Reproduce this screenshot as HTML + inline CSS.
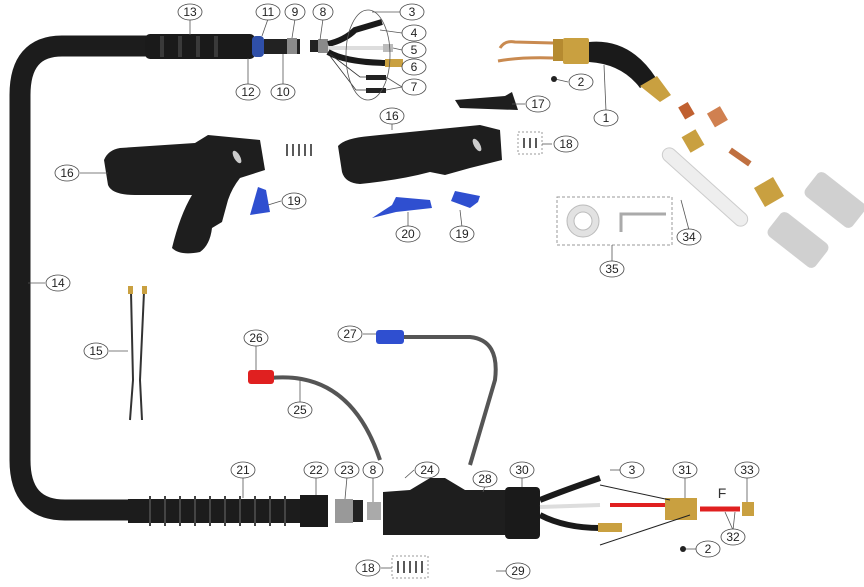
<!DOCTYPE html>
<html><head><meta charset="utf-8"><style>
html,body{margin:0;padding:0;background:#fff;width:864px;height:587px;overflow:hidden}
svg{display:block}
text{font-family:"Liberation Sans",sans-serif;font-size:12px;fill:#222;text-anchor:middle;dominant-baseline:central}
.c{fill:#fff;stroke:#444;stroke-width:0.8}
.l{stroke:#555;stroke-width:0.8;fill:none}
</style></head><body>
<svg width="864" height="587" viewBox="0 0 864 587">
<path d="M150 46 L62 46 Q20 46 20 95 L20 460 Q20 510 65 510 L135 510" stroke="#1c1c1c" stroke-width="21" fill="none"/>
<rect x="145" y="34" width="110" height="25" rx="5" fill="#1a1a1a"/>
<g fill="#3a3a3a"><rect x="160" y="36" width="4" height="21"/><rect x="178" y="36" width="4" height="21"/><rect x="196" y="36" width="4" height="21"/><rect x="214" y="36" width="4" height="21"/></g>
<rect x="252" y="36" width="12" height="21" rx="4" fill="#2f4fa8"/>
<rect x="264" y="39" width="36" height="15" fill="#222"/>
<rect x="287" y="38" width="10" height="16" fill="#8a8a8a"/>
<rect x="310" y="40" width="8" height="12" fill="#222"/>
<rect x="318" y="39" width="10" height="14" fill="#8a8a8a"/>
<path d="M328 44 Q345 40 355 30 L382 22" stroke="#1a1a1a" stroke-width="6" fill="none"/>
<path d="M328 48 L385 48" stroke="#ddd" stroke-width="4"/>
<rect x="383" y="44" width="10" height="8" fill="#bbb"/>
<path d="M328 52 Q345 62 385 63" stroke="#1a1a1a" stroke-width="6" fill="none"/>
<rect x="385" y="59" width="18" height="8" fill="#c9a040"/>
<path d="M330 54 L360 77 L386 77 M330 56 L356 90 L386 90" stroke="#333" stroke-width="0.8" fill="none"/>
<rect x="366" y="75" width="20" height="5" fill="#222"/><rect x="366" y="88" width="20" height="5" fill="#222"/>
<ellipse cx="368" cy="55" rx="22" ry="45" class="l"/>
<!-- torch neck -->
<path d="M500 48 Q505 40 515 42 L553 43" stroke="#c98a50" stroke-width="3" fill="none"/>
<path d="M498 61 Q520 57 553 58" stroke="#c98a50" stroke-width="3" fill="none"/>
<rect x="553" y="39" width="10" height="22" fill="#b58a30"/>
<rect x="563" y="38" width="26" height="26" rx="2" fill="#c9a040"/>
<path d="M589 42 Q630 38 656 78 L640 88 Q622 64 589 62 Z" fill="#1a1a1a"/>
<path d="M640 86 L657 76 L671 95 L660 102 Z" fill="#c9a040"/>
<!-- consumables -->
<rect x="681" y="104" width="11" height="14" fill="#c06030" transform="rotate(-30 686 111)"/>
<rect x="710" y="109" width="15" height="16" fill="#d08050" transform="rotate(-30 717 117)"/>
<rect x="685" y="132" width="16" height="18" fill="#c9a040" transform="rotate(-30 693 141)"/>
<rect x="728" y="154" width="24" height="6" fill="#c07040" transform="rotate(35 740 157)"/>
<rect x="758" y="181" width="22" height="22" fill="#c9a040" transform="rotate(-30 769 192)"/>
<rect x="650" y="180" width="110" height="14" rx="7" fill="#eee" stroke="#ccc" transform="rotate(42 705 187)"/>
<rect x="805" y="185" width="60" height="30" rx="6" fill="#d0d0d0" transform="rotate(38 835 200)"/>
<rect x="768" y="225" width="60" height="30" rx="6" fill="#d0d0d0" transform="rotate(38 798 240)"/>
<!-- box 35 -->
<rect x="557" y="197" width="115" height="48" fill="none" stroke="#999" stroke-dasharray="3 2"/>
<circle cx="583" cy="221" r="16" fill="#e2e2e2" stroke="#bbb"/><circle cx="583" cy="221" r="9" fill="#fff" stroke="#bbb"/>
<path d="M621 232 L621 214 L666 214" stroke="#aaa" stroke-width="3" fill="none"/>
<!-- guns -->
<path d="M104 160 Q108 150 120 148 L195 143 L208 135 L260 140 L265 170 L240 178 Q232 188 228 200 L222 222 L212 228 Q210 245 200 252 Q180 256 172 248 Q180 215 192 195 L135 195 Q112 195 108 185 Z" fill="#1e1e1e"/>
<ellipse cx="237" cy="157" rx="3" ry="7" fill="#ccc" transform="rotate(-30 237 157)"/>
<path d="M338 146 Q345 138 370 136 L480 125 L500 130 L502 160 L470 168 L445 175 L430 172 Q400 180 360 184 Q345 183 342 172 Z" fill="#1e1e1e"/>
<ellipse cx="477" cy="145" rx="3" ry="7" fill="#ccc" transform="rotate(-30 477 145)"/>
<path d="M455 100 L505 96 L512 92 L518 110 L460 108 Z" fill="#1e1e1e"/>
<path d="M250 215 L258 187 L266 190 L270 212 Z" fill="#2f4fd0"/>
<path d="M372 218 L392 205 L396 197 L430 200 L432 208 L396 212 Z" fill="#2f4fd0"/>
<path d="M451 201 L455 191 L480 196 L478 202 L470 208 Z" fill="#2f4fd0"/>
<g stroke="#222" stroke-width="1.5"><line x1="287" y1="144" x2="287" y2="156"/><line x1="293" y1="144" x2="293" y2="156"/><line x1="299" y1="144" x2="299" y2="156"/><line x1="305" y1="144" x2="305" y2="156"/><line x1="311" y1="144" x2="311" y2="156"/>
<line x1="524" y1="138" x2="524" y2="148"/><line x1="530" y1="138" x2="530" y2="148"/><line x1="536" y1="138" x2="536" y2="148"/>
<line x1="398" y1="561" x2="398" y2="573"/><line x1="404" y1="561" x2="404" y2="573"/><line x1="410" y1="561" x2="410" y2="573"/><line x1="416" y1="561" x2="416" y2="573"/><line x1="422" y1="561" x2="422" y2="573"/></g>
<rect x="518" y="132" width="24" height="22" fill="none" stroke="#999" stroke-dasharray="2 2"/>
<rect x="392" y="556" width="36" height="22" fill="none" stroke="#999" stroke-dasharray="2 2"/>
<!-- item 15 -->
<path d="M131 292 L133 380 L130 420 M144 292 L140 380 L142 420" stroke="#333" stroke-width="2" fill="none"/>
<rect x="128" y="286" width="5" height="8" fill="#c9a040"/><rect x="142" y="286" width="5" height="8" fill="#c9a040"/>
<!-- water hoses -->
<path d="M270 378 Q350 370 380 460" stroke="#555" stroke-width="4" fill="none"/>
<path d="M395 337 L470 337 Q500 340 495 380 L470 465" stroke="#555" stroke-width="4" fill="none"/>
<rect x="248" y="370" width="26" height="14" rx="3" fill="#e02020"/>
<rect x="376" y="330" width="28" height="14" rx="3" fill="#2f4fd0"/>
<!-- bottom assembly -->
<rect x="128" y="499" width="180" height="24" fill="#1c1c1c"/>
<g stroke="#444" stroke-width="2"><line x1="150" y1="496" x2="150" y2="526"/><line x1="165" y1="496" x2="165" y2="526"/><line x1="180" y1="496" x2="180" y2="526"/><line x1="195" y1="496" x2="195" y2="526"/><line x1="210" y1="496" x2="210" y2="526"/><line x1="225" y1="496" x2="225" y2="526"/><line x1="240" y1="496" x2="240" y2="526"/><line x1="255" y1="496" x2="255" y2="526"/><line x1="270" y1="496" x2="270" y2="526"/><line x1="285" y1="496" x2="285" y2="526"/></g>
<rect x="300" y="495" width="28" height="32" fill="#1a1a1a"/>
<rect x="335" y="499" width="18" height="24" fill="#999"/>
<rect x="353" y="500" width="10" height="22" fill="#222"/>
<rect x="367" y="502" width="14" height="18" fill="#aaa"/>
<path d="M383 492 L410 490 L430 478 L445 478 L465 490 L515 490 L515 535 L383 535 Z" fill="#1e1e1e"/>
<rect x="505" y="487" width="35" height="52" rx="4" fill="#1a1a1a"/>
<path d="M540 500 Q565 490 600 478" stroke="#1a1a1a" stroke-width="6" fill="none"/>
<path d="M540 507 L600 505" stroke="#ddd" stroke-width="4"/>
<path d="M540 515 Q565 528 600 528" stroke="#1a1a1a" stroke-width="6" fill="none"/>
<rect x="598" y="523" width="24" height="9" fill="#c9a040"/>
<path d="M610 505 L670 505" stroke="#e02020" stroke-width="4"/>
<rect x="665" y="498" width="32" height="22" fill="#c9a040"/>
<path d="M700 509 L740 509" stroke="#e02020" stroke-width="5"/>
<rect x="742" y="502" width="12" height="14" fill="#c9a040"/>
<path d="M600 485 L670 500 M600 545 L690 515" stroke="#222" stroke-width="1"/>
<text x="722" y="493" style="font-size:14px;fill:#333">F</text>
<g>
<line class="l" x1="190" y1="19" x2="190" y2="35"/><line class="l" x1="268" y1="19" x2="262" y2="36"/><line class="l" x1="295" y1="19" x2="292" y2="38"/><line class="l" x1="323" y1="19" x2="320" y2="40"/>
<line class="l" x1="400" y1="12" x2="372" y2="12"/><line class="l" x1="402" y1="33" x2="380" y2="30"/><line class="l" x1="402" y1="50" x2="393" y2="48"/><line class="l" x1="402" y1="67" x2="403" y2="63"/><line class="l" x1="402" y1="87" x2="386" y2="77"/><line class="l" x1="402" y1="87" x2="386" y2="90"/>
<line class="l" x1="248" y1="85" x2="248" y2="58"/><line class="l" x1="283" y1="85" x2="283" y2="54"/>
<line class="l" x1="568" y1="82" x2="555" y2="79"/><line class="l" x1="606" y1="111" x2="604" y2="65"/><line class="l" x1="525" y1="104" x2="512" y2="104"/>
<line class="l" x1="392" y1="123" x2="392" y2="130"/><line class="l" x1="552" y1="144" x2="542" y2="144"/>
<line class="l" x1="80" y1="173" x2="108" y2="173"/><line class="l" x1="281" y1="201" x2="268" y2="205"/>
<line class="l" x1="408" y1="227" x2="408" y2="212"/><line class="l" x1="462" y1="227" x2="460" y2="210"/>
<line class="l" x1="689" y1="230" x2="681" y2="200"/><line class="l" x1="612" y1="262" x2="612" y2="245"/>
<line class="l" x1="45" y1="283" x2="28" y2="283"/><line class="l" x1="109" y1="351" x2="128" y2="351"/>
<line class="l" x1="256" y1="345" x2="256" y2="370"/><line class="l" x1="363" y1="334" x2="376" y2="334"/><line class="l" x1="300" y1="403" x2="300" y2="380"/>
<line class="l" x1="243" y1="477" x2="243" y2="498"/><line class="l" x1="316" y1="477" x2="316" y2="495"/><line class="l" x1="347" y1="477" x2="345" y2="499"/><line class="l" x1="373" y1="477" x2="373" y2="502"/><line class="l" x1="414" y1="470" x2="405" y2="478"/><line class="l" x1="485" y1="486" x2="483" y2="492"/><line class="l" x1="522" y1="477" x2="522" y2="487"/>
<line class="l" x1="620" y1="470" x2="610" y2="470"/><line class="l" x1="685" y1="477" x2="685" y2="498"/><line class="l" x1="733" y1="530" x2="725" y2="512"/><line class="l" x1="733" y1="530" x2="735" y2="512"/><line class="l" x1="747" y1="477" x2="747" y2="502"/>
<line class="l" x1="696" y1="549" x2="684" y2="549"/><line class="l" x1="381" y1="568" x2="392" y2="568"/><line class="l" x1="506" y1="571" x2="496" y2="571"/>
</g>
<circle cx="683" cy="549" r="3" fill="#222"/><circle cx="554" cy="79" r="3" fill="#222"/>
<g>
<ellipse class="c" cx="190" cy="12" rx="12" ry="8"/><text x="190" y="12">13</text>
<ellipse class="c" cx="268" cy="12" rx="12" ry="8"/><text x="268" y="12">11</text>
<ellipse class="c" cx="295" cy="12" rx="10" ry="8"/><text x="295" y="12">9</text>
<ellipse class="c" cx="323" cy="12" rx="10" ry="8"/><text x="323" y="12">8</text>
<ellipse class="c" cx="412" cy="12" rx="12" ry="8"/><text x="412" y="12">3</text>
<ellipse class="c" cx="414" cy="33" rx="12" ry="8"/><text x="414" y="33">4</text>
<ellipse class="c" cx="414" cy="50" rx="12" ry="8"/><text x="414" y="50">5</text>
<ellipse class="c" cx="414" cy="67" rx="12" ry="8"/><text x="414" y="67">6</text>
<ellipse class="c" cx="414" cy="87" rx="12" ry="8"/><text x="414" y="87">7</text>
<ellipse class="c" cx="248" cy="92" rx="12" ry="8"/><text x="248" y="92">12</text>
<ellipse class="c" cx="283" cy="92" rx="12" ry="8"/><text x="283" y="92">10</text>
<ellipse class="c" cx="581" cy="82" rx="12" ry="8"/><text x="581" y="82">2</text>
<ellipse class="c" cx="606" cy="118" rx="12" ry="8"/><text x="606" y="118">1</text>
<ellipse class="c" cx="538" cy="104" rx="12" ry="8"/><text x="538" y="104">17</text>
<ellipse class="c" cx="392" cy="116" rx="12" ry="8"/><text x="392" y="116">16</text>
<ellipse class="c" cx="566" cy="144" rx="12" ry="8"/><text x="566" y="144">18</text>
<ellipse class="c" cx="67" cy="173" rx="12" ry="8"/><text x="67" y="173">16</text>
<ellipse class="c" cx="294" cy="201" rx="12" ry="8"/><text x="294" y="201">19</text>
<ellipse class="c" cx="408" cy="234" rx="12" ry="8"/><text x="408" y="234">20</text>
<ellipse class="c" cx="462" cy="234" rx="12" ry="8"/><text x="462" y="234">19</text>
<ellipse class="c" cx="689" cy="237" rx="12" ry="8"/><text x="689" y="237">34</text>
<ellipse class="c" cx="612" cy="269" rx="12" ry="8"/><text x="612" y="269">35</text>
<ellipse class="c" cx="58" cy="283" rx="12" ry="8"/><text x="58" y="283">14</text>
<ellipse class="c" cx="96" cy="351" rx="12" ry="8"/><text x="96" y="351">15</text>
<ellipse class="c" cx="256" cy="338" rx="12" ry="8"/><text x="256" y="338">26</text>
<ellipse class="c" cx="350" cy="334" rx="12" ry="8"/><text x="350" y="334">27</text>
<ellipse class="c" cx="300" cy="410" rx="12" ry="8"/><text x="300" y="410">25</text>
<ellipse class="c" cx="243" cy="470" rx="12" ry="8"/><text x="243" y="470">21</text>
<ellipse class="c" cx="316" cy="470" rx="12" ry="8"/><text x="316" y="470">22</text>
<ellipse class="c" cx="347" cy="470" rx="12" ry="8"/><text x="347" y="470">23</text>
<ellipse class="c" cx="373" cy="470" rx="10" ry="8"/><text x="373" y="470">8</text>
<ellipse class="c" cx="427" cy="470" rx="12" ry="8"/><text x="427" y="470">24</text>
<ellipse class="c" cx="485" cy="479" rx="12" ry="8"/><text x="485" y="479">28</text>
<ellipse class="c" cx="522" cy="470" rx="12" ry="8"/><text x="522" y="470">30</text>
<ellipse class="c" cx="632" cy="470" rx="12" ry="8"/><text x="632" y="470">3</text>
<ellipse class="c" cx="685" cy="470" rx="12" ry="8"/><text x="685" y="470">31</text>
<ellipse class="c" cx="747" cy="470" rx="12" ry="8"/><text x="747" y="470">33</text>
<ellipse class="c" cx="733" cy="537" rx="12" ry="8"/><text x="733" y="537">32</text>
<ellipse class="c" cx="708" cy="549" rx="12" ry="8"/><text x="708" y="549">2</text>
<ellipse class="c" cx="368" cy="568" rx="12" ry="8"/><text x="368" y="568">18</text>
<ellipse class="c" cx="518" cy="571" rx="12" ry="8"/><text x="518" y="571">29</text>
</g>
</svg>
</body></html>
